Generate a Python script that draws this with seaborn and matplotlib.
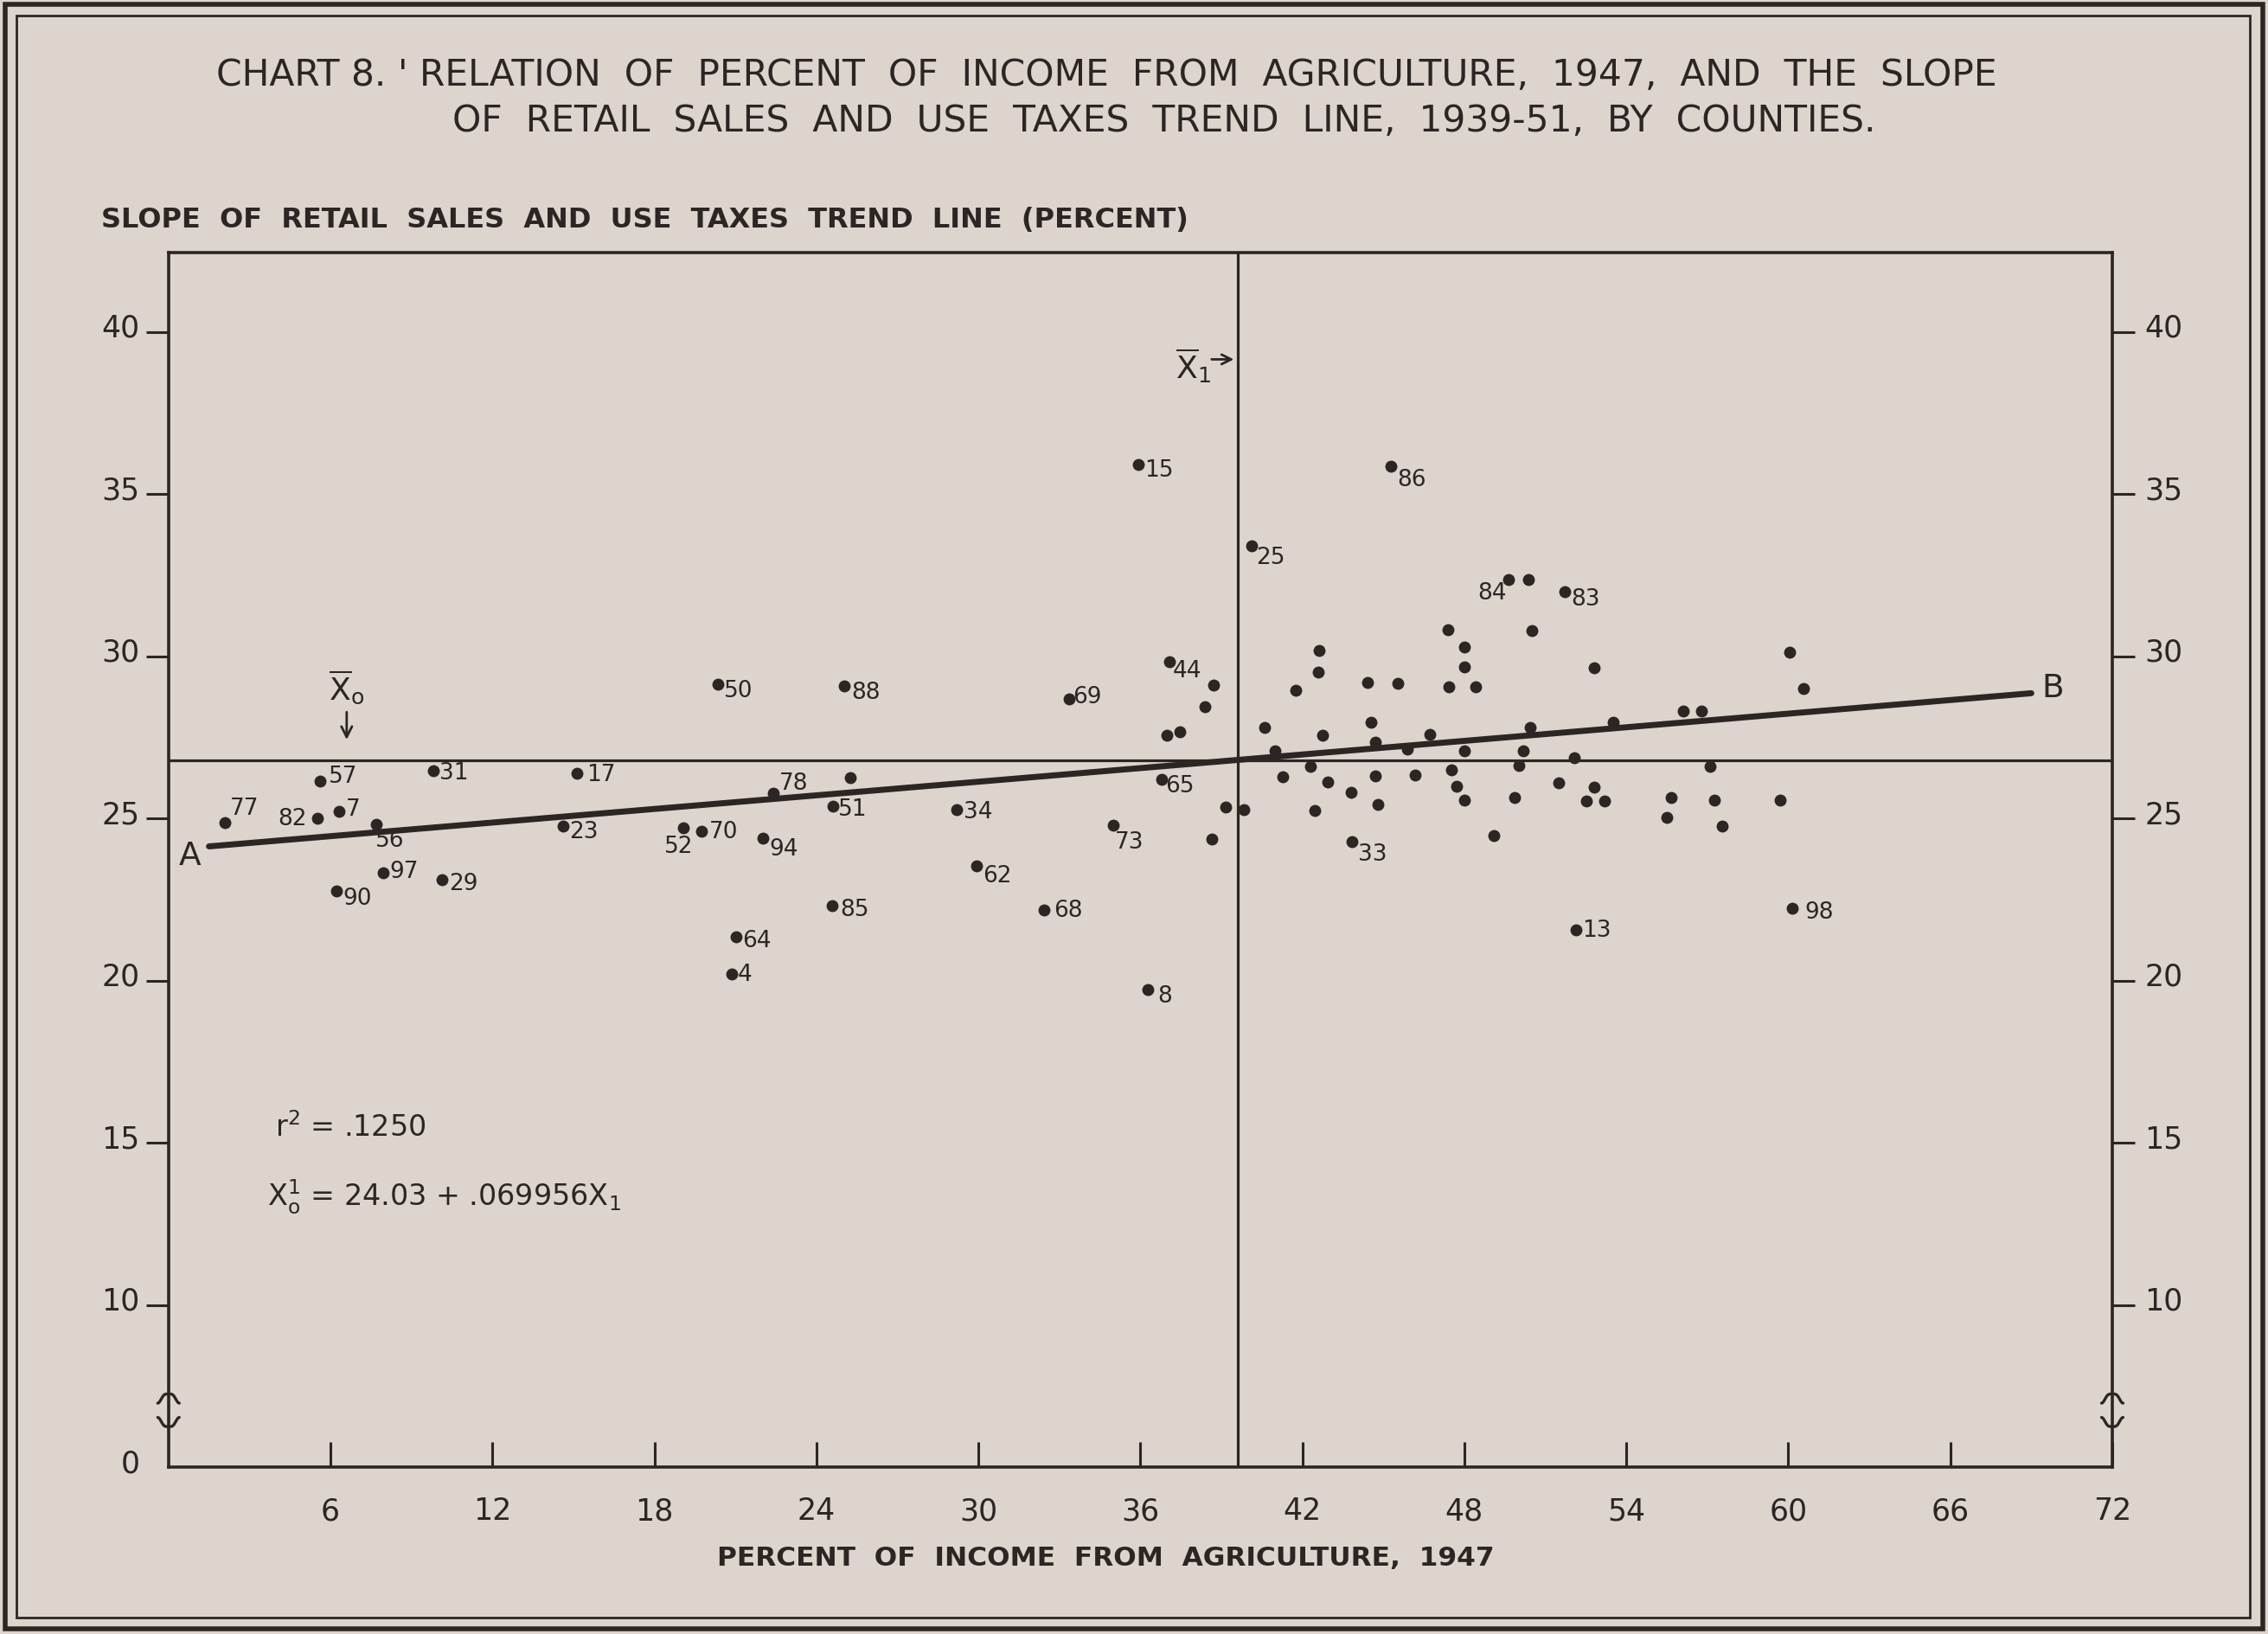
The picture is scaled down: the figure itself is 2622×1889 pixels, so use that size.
import matplotlib
matplotlib.use("Agg")
import matplotlib.pyplot as plt
import seaborn as sns
import pandas as pd
import numpy as np
from matplotlib.patches import Rectangle
from matplotlib.transforms import ScaledTranslation

# ---------------- data ----------------
county_ids = ['77', '82', '57', '7', '56', '90', '97', '29', '31', '17', '23', '52', '70',
              '50', '64', '4', '94', '78', '51', '85', '88', '34', '62', '68', '69', '73',
              '15', '8', '65', '44', '25', '86', '33', '84', '83', '13', '98']
county_x = [2.09, 5.53, 5.61, 6.31, 7.70, 6.23, 7.96, 10.12, 9.80, 15.12, 14.61, 19.07, 19.75,
            20.34, 21.02, 20.87, 22.03, 22.41, 24.62, 24.57, 25.02, 29.18, 29.93, 32.42, 33.37, 35.00,
            35.92, 36.29, 36.80, 37.07, 40.11, 45.28, 43.83, 49.64, 51.73, 52.15, 60.13]
county_y = [24.88, 24.99, 26.15, 25.21, 24.81, 22.77, 23.33, 23.12, 26.48, 26.39, 24.75, 24.70, 24.59,
            29.13, 21.34, 20.19, 24.40, 25.77, 25.37, 22.30, 29.09, 25.26, 23.54, 22.17, 28.69, 24.79,
            35.90, 19.71, 26.21, 29.83, 33.39, 35.85, 24.28, 32.37, 32.00, 21.56, 22.23]

other_x = [25.24, 38.70, 38.38, 36.99, 37.47, 39.15, 39.84, 38.64, 40.59, 40.97, 41.27, 41.77,
           42.62, 42.60, 42.76, 42.30, 42.94, 42.46, 43.80, 44.41, 44.54, 44.70, 44.70, 44.79,
           45.54, 45.90, 46.18, 46.73, 47.39, 47.99, 47.99, 47.42, 48.42, 47.99, 47.53, 47.71,
           47.99, 50.37, 50.49, 52.80, 60.06, 60.56, 50.45, 53.52, 56.11, 56.79, 50.17, 50.02,
           52.07, 57.09, 51.49, 49.85, 52.82, 52.52, 53.19, 55.65, 55.51, 57.25, 57.54, 59.71, 49.08]
other_y = [26.26, 29.11, 28.44, 27.55, 27.66, 25.35, 25.26, 24.36, 27.81, 27.07, 26.28, 28.95,
           30.18, 29.51, 27.55, 26.60, 26.12, 25.23, 25.79, 29.19, 27.97, 27.35, 26.30, 25.44,
           29.15, 27.13, 26.33, 27.60, 30.82, 30.29, 29.68, 29.06, 29.06, 27.07, 26.50, 26.00,
           25.55, 32.37, 30.78, 29.65, 30.11, 29.00, 27.81, 27.96, 28.31, 28.31, 27.08, 26.64,
           26.86, 26.60, 26.10, 25.64, 25.97, 25.53, 25.53, 25.64, 25.02, 25.55, 24.75, 25.57, 24.46]

mean_x1 = 39.6      # mean of percent of income from agriculture
mean_x0 = 26.8      # mean slope
intercept = 24.03
slope = 0.069956
line_x = [1.5, 69.0]   # extent of trend line A-B

x_ticks = [6, 12, 18, 24, 30, 36, 42, 48, 54, 60, 66, 72]
y_ticks = [5, 10, 15, 20, 25, 30, 35, 40]
y_tick_labels = ['0', '10', '15', '20', '25', '30', '35', '40']

title_1 = "CHART 8. ' RELATION  OF  PERCENT  OF  INCOME  FROM  AGRICULTURE,  1947,  AND  THE  SLOPE"
title_2 = "OF  RETAIL  SALES  AND  USE  TAXES  TREND  LINE,  1939-51,  BY  COUNTIES."
y_title = "SLOPE  OF  RETAIL  SALES  AND  USE  TAXES  TREND  LINE  (PERCENT)"
x_title = "PERCENT  OF  INCOME  FROM  AGRICULTURE,  1947"

# label placement (points offset, alignment)
label_pos = {
    '77': (4, 12, 'left'), '82': (-9, 0, 'right'), '57': (7, 4, 'left'), '7': (6, 2, 'left'),
    '56': (-1, -13, 'left'), '90': (5, -6, 'left'), '97': (5, 1, 'left'), '29': (6, -3, 'left'),
    '31': (5, -2, 'left'), '17': (8, -1, 'left'), '23': (5, -4, 'left'), '52': (-4, -15, 'center'),
    '70': (6, 0, 'left'), '50': (5, -5, 'left'), '64': (5, -3, 'left'), '4': (5, 0, 'left'),
    '94': (5, -9, 'left'), '78': (5, 9, 'left'), '51': (4, -2, 'left'), '85': (7, -3, 'left'),
    '88': (6, -5, 'left'), '34': (6, -1, 'left'), '62': (5, -8, 'left'), '68': (8, 0, 'left'),
    '69': (3, 2, 'left'), '73': (1, -14, 'left'), '15': (5, -4, 'left'), '8': (8, -5, 'left'),
    '65': (3, -5, 'left'), '44': (3, -7, 'left'), '25': (4, -9, 'left'), '86': (5, -11, 'left'),
    '33': (5, -10, 'left'), '84': (-2, -11, 'right'), '83': (5, -6, 'left'), '13': (5, 0, 'left'),
    '98': (11, -3, 'left'),
}

# ---------------- style ----------------
bg = '#ddd4cd'
ink = '#2b2624'
sns.set_style('ticks')
plt.rcParams['font.family'] = ['DejaVu Sans']
plt.rcParams['mathtext.default'] = 'regular'
plt.rcParams['text.color'] = ink

W, H = 2622, 1890
fig = plt.figure(figsize=(W / 100, H / 100), dpi=100, facecolor=bg)

# double border
fig.patches.append(Rectangle((6 / W, 6 / H), 1 - 12 / W, 1 - 12 / H, transform=fig.transFigure,
                             fill=False, edgecolor=ink, lw=4))
fig.patches.append(Rectangle((19 / W, 19 / H), 1 - 40 / W, 1 - 38 / H, transform=fig.transFigure,
                             fill=False, edgecolor=ink, lw=2))

ax = fig.add_axes([194.8 / W, 1 - 1697 / H, (2442 - 194.8) / W, (1697 - 292.7) / H])
ax.set_facecolor(bg)

df_pts = pd.DataFrame({'income': county_x + other_x, 'slope': county_y + other_y})
sns.scatterplot(data=df_pts, x='income', y='slope', ax=ax, s=100, color=ink,
                edgecolor=ink, linewidth=0, legend=False, zorder=5)

lx = np.array(line_x)
df_line = pd.DataFrame({'x': lx, 'y': intercept + slope * lx})
sns.lineplot(data=df_line, x='x', y='y', ax=ax, color=ink, lw=5, zorder=4)

ax.axvline(mean_x1, color=ink, lw=2.3, zorder=3)
ax.axhline(mean_x0, color=ink, lw=2.3, zorder=3)

for cid, x, y in zip(county_ids, county_x, county_y):
    dx, dy, ha = label_pos[cid]
    ax.annotate(cid, (x, y), xytext=(dx, dy), textcoords='offset points', ha=ha,
                va='center', fontsize=19, color=ink, zorder=6)

ax.set_xlim(0, 72)
ax.set_ylim(5, 42.45)
ax.set_xticks(x_ticks)
ax.set_xticklabels([str(t) for t in x_ticks])
ax.set_yticks(y_ticks)
ax.set_yticklabels(y_tick_labels)
ax.set_xlabel('')
ax.set_ylabel('')

for sp in ax.spines.values():
    sp.set_visible(True)
    sp.set_color(ink)
    sp.set_linewidth(2.6)

ax.tick_params(axis='x', direction='in', length=21, width=2.2, pad=24, labelsize=25, colors=ink)
ax.tick_params(axis='y', direction='out', length=19, width=2.2, pad=5, labelsize=25, colors=ink,
               right=True, labelright=True)
yt = ax.yaxis.get_major_ticks()
yt[0].tick1line.set_visible(False)
yt[0].tick2line.set_visible(False)
yt[0].label2.set_visible(False)
off = ScaledTranslation(0, 6 / 72, fig.dpi_scale_trans)
for t in yt:
    t.label1.set_transform(t.label1.get_transform() + off)
    t.label2.set_transform(t.label2.get_transform() + off + ScaledTranslation(3 / 72, 0, fig.dpi_scale_trans))

# axis break marks on both vertical axes
tt = np.linspace(-1, 1, 40)
for xb in (0, 72):
    ax.plot(xb + 0.4 * tt, 7.15 + 0.14 * np.cos(np.pi * tt) - 0.04 * np.cos(2 * np.pi * tt),
            color=ink, lw=2.4, clip_on=False, zorder=7)
    ax.plot(xb + 0.4 * tt, 6.35 - 0.14 * np.cos(np.pi * tt) + 0.04 * np.cos(2 * np.pi * tt),
            color=ink, lw=2.4, clip_on=False, zorder=7)

# mean markers
ax.annotate('', xy=(6.6, 27.35), xytext=(6.6, 28.35),
            arrowprops=dict(arrowstyle='->', color=ink, lw=2, mutation_scale=22))
ax.text(6.6, 29.05, r'$\overline{\mathrm{X}}_{\mathrm{o}}$', ha='center', va='center', fontsize=26)
ax.annotate('', xy=(mean_x1 - 0.05, 39.15), xytext=(38.55, 39.15),
            arrowprops=dict(arrowstyle='->', color=ink, lw=2, mutation_scale=20))
ax.text(38.6, 39.0, r'$\overline{\mathrm{X}}_{\mathrm{1}}$', ha='right', va='center', fontsize=26)

ax.text(0.78, 23.85, 'A', ha='center', va='center', fontsize=27)
ax.text(69.8, 29.02, 'B', ha='center', va='center', fontsize=27)

ax.text(3.95, 15.5, r'r$^{2}$ = .1250', ha='left', va='center', fontsize=24)
ax.text(3.66, 13.36, r"X$_{\mathrm{o}}^{\mathrm{1}}$ = 24.03 + .069956X$_{\mathrm{1}}$",
        ha='left', va='center', fontsize=24)

fig.text(1279 / W, 1 - 87 / H, title_1, ha='center', va='center', fontsize=30.5)
fig.text(1346 / W, 1 - 140 / H, title_2, ha='center', va='center', fontsize=30.5)
fig.text(117 / W, 1 - 254 / H, y_title, ha='left', va='center', fontsize=23, fontweight='bold')
fig.text(1278 / W, 1 - 1802 / H, x_title, ha='center', va='center', fontsize=22.5, fontweight='bold')

fig.savefig('out.png', dpi=100, facecolor=bg)
